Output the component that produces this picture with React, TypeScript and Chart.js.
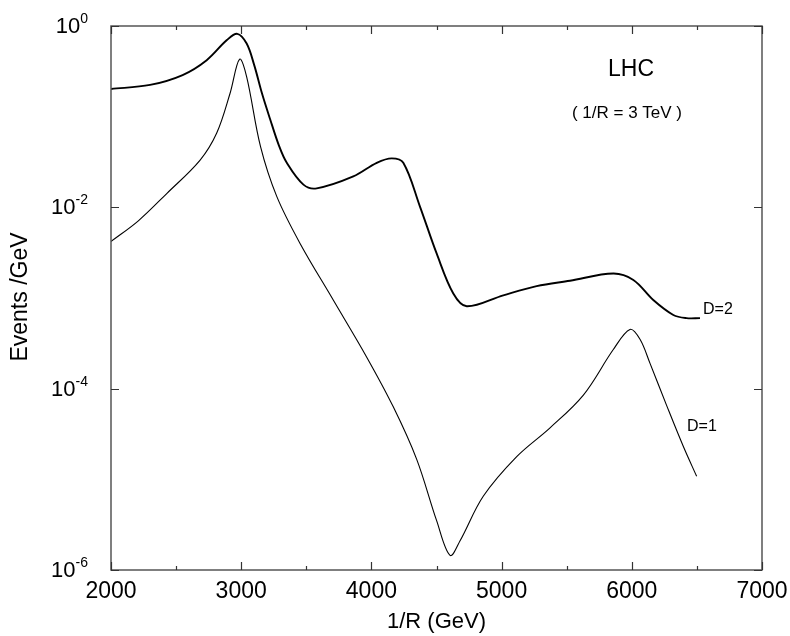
import React, { useEffect, useRef } from "react";
import { Chart, registerables } from "chart.js";

Chart.register(...registerables);

// ---- data ----
const d2X = [2000, 2300, 2550, 2735, 2890, 2970, 3042, 3100, 3160, 3221, 3290, 3350, 3478, 3580, 3861, 4041, 4156, 4245, 4373, 4501, 4629, 4732, 5013, 5269, 5525, 5858, 6012, 6165, 6319, 6420, 6524];
const d2Y = [0.202, 0.224, 0.288, 0.42, 0.70, 0.82, 0.64, 0.37, 0.18, 0.095, 0.048, 0.031, 0.0178, 0.0162, 0.0219, 0.031, 0.0347, 0.031, 0.0102, 0.0031, 0.00112, 0.00081, 0.00107, 0.00135, 0.00155, 0.00186, 0.00158, 0.00095, 0.00065, 0.00060, 0.00060];

const d1X = [2000, 2210, 2428, 2683, 2812, 2914, 2988, 3042, 3148, 3273, 3452, 3707, 3963, 4168, 4348, 4501, 4604, 4681, 4859, 5116, 5372, 5628, 5858, 5986, 6063, 6140, 6268, 6396, 6498];
const d1Y = [0.0042, 0.0071, 0.0142, 0.033, 0.066, 0.18, 0.43, 0.275, 0.047, 0.0132, 0.0040, 0.00095, 0.000224, 0.000063, 0.0000166, 0.0000035, 0.00000145, 0.0000021, 0.0000065, 0.0000178, 0.000037, 0.000085, 0.00027, 0.00045, 0.00035, 0.00019, 0.000065, 0.000023, 0.0000108];

const xMajorTicks = [2000, 3000, 4000, 5000, 6000, 7000];
const xMinorTicks = [2500, 3500, 4500, 5500, 6500];
const yMajorTicks = [1, 1e-2, 1e-4, 1e-6];

const xTitle = "1/R (GeV)";
const yTitle = "Events /GeV";
const titleMain = "LHC";
const titleSub = "( 1/R = 3 TeV )";
const labelD2 = "D=2";
const labelD1 = "D=1";

const FONT = "'Liberation Sans', Arial, Helvetica, sans-serif";

const framePlugin = {
  id: "framePlugin",
  afterDraw(chart: any) {
    const ctx = chart.ctx;
    const { left, right, top, bottom } = chart.chartArea;
    const xs = chart.scales.x;
    const ys = chart.scales.y;
    ctx.save();
    ctx.strokeStyle = "#555";
    ctx.lineWidth = 1.5;
    ctx.strokeRect(left, top, right - left, bottom - top);
    ctx.lineWidth = 1.2;
    ctx.strokeStyle = "#333";
    const xt = (v: number, len: number) => {
      const px = Math.round(xs.getPixelForValue(v)) + 0.5;
      ctx.beginPath();
      ctx.moveTo(px, bottom);
      ctx.lineTo(px, bottom - len);
      ctx.moveTo(px, top);
      ctx.lineTo(px, top + len);
      ctx.stroke();
    };
    xMajorTicks.forEach((v) => xt(v, 8));
    xMinorTicks.forEach((v) => xt(v, 4));
    yMajorTicks.forEach((v) => {
      const py = Math.round(ys.getPixelForValue(v)) + 0.5;
      ctx.beginPath();
      ctx.moveTo(left, py);
      ctx.lineTo(left + 8, py);
      ctx.moveTo(right, py);
      ctx.lineTo(right - 8, py);
      ctx.stroke();
    });
    ctx.fillStyle = "#000";
    ctx.font = `23px ${FONT}`;
    ctx.textAlign = "center";
    ctx.textBaseline = "alphabetic";
    xMajorTicks.forEach((v) => {
      ctx.fillText(String(v), xs.getPixelForValue(v), 598);
    });
    yMajorTicks.forEach((v) => {
      const py = ys.getPixelForValue(v);
      const exp = String(Math.round(Math.log10(v)));
      ctx.font = `14px ${FONT}`;
      const we = ctx.measureText(exp).width;
      ctx.font = `22px ${FONT}`;
      const wb = ctx.measureText("10").width;
      const rightEdge = 88;
      ctx.textAlign = "left";
      ctx.textBaseline = "middle";
      ctx.fillText("10", rightEdge - we - wb, py + 1);
      ctx.font = `14px ${FONT}`;
      ctx.fillText(exp, rightEdge - we, py - 7);
    });
    ctx.font = `22px ${FONT}`;
    ctx.textAlign = "center";
    ctx.textBaseline = "middle";
    ctx.fillText(xTitle, (left + right) / 2, 622);
    ctx.save();
    ctx.translate(21, 297);
    ctx.rotate(-Math.PI / 2);
    ctx.font = `23px ${FONT}`;
    ctx.fillText(yTitle, 0, 0);
    ctx.restore();
    ctx.font = `23px ${FONT}`;
    ctx.textAlign = "center";
    ctx.fillText(titleMain, 631, 70);
    ctx.font = `17px ${FONT}`;
    ctx.fillText(titleSub, 627, 113);
    ctx.font = `16px ${FONT}`;
    ctx.textAlign = "left";
    ctx.fillText(labelD2, 703, 310);
    ctx.fillText(labelD1, 687, 427);
    ctx.restore();
  },
};

export default function App() {
  const ref = useRef<HTMLCanvasElement | null>(null);
  useEffect(() => {
    document.body.style.margin = "0";
    const canvas = ref.current;
    if (!canvas) return;
    const chart = new Chart(canvas, {
      type: "line",
      data: {
        datasets: [
          {
            label: labelD2,
            data: d2X.map((x, i) => ({ x, y: d2Y[i] })),
            borderColor: "#000",
            borderWidth: 1.9,
            pointRadius: 0,
            fill: false,
            tension: 0.35,
          },
          {
            label: labelD1,
            data: d1X.map((x, i) => ({ x, y: d1Y[i] })),
            borderColor: "#000",
            borderWidth: 1.1,
            pointRadius: 0,
            fill: false,
            tension: 0.35,
          },
        ],
      },
      options: {
        responsive: false,
        animation: false,
        devicePixelRatio: 1,
        layout: { padding: { top: 26, right: 28, left: 0, bottom: 0 } },
        plugins: { legend: { display: false }, tooltip: { enabled: false } },
        scales: {
          x: {
            type: "linear",
            min: 2000,
            max: 7000,
            ticks: { display: false },
            grid: { display: false },
            border: { display: false },
            afterFit: (s: any) => {
              s.height = 66;
            },
          },
          y: {
            type: "logarithmic",
            min: 1e-6,
            max: 1,
            ticks: { display: false },
            grid: { display: false },
            border: { display: false },
            afterFit: (s: any) => {
              s.width = 111;
            },
          },
        },
      },
      plugins: [framePlugin],
    } as any);
    return () => chart.destroy();
  }, []);
  return (
    <div style={{ width: 790, height: 636, background: "#fff" }}>
      <canvas ref={ref} width={790} height={636} />
    </div>
  );
}
